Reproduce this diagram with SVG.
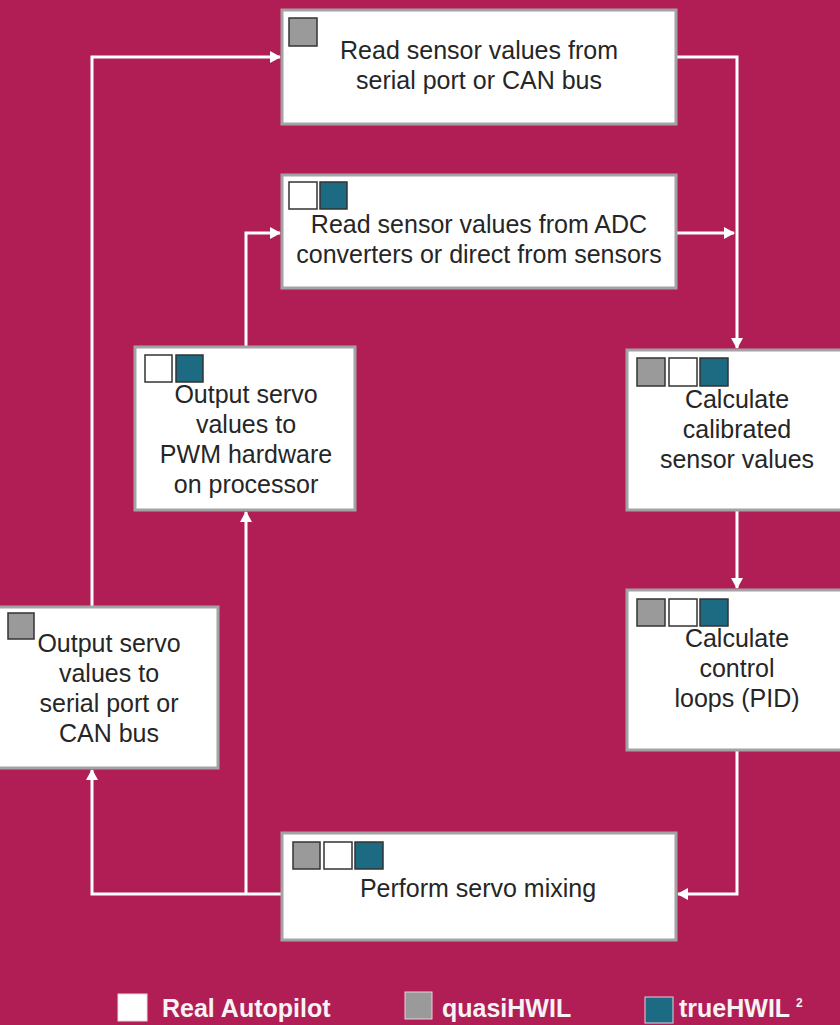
<svg xmlns="http://www.w3.org/2000/svg" width="840" height="1025" viewBox="0 0 840 1025">
<style>
.bg{fill:#B11E56}
.box{fill:#ffffff;stroke:#a3a3a3;stroke-width:3}
.t{font-family:"Liberation Sans",Arial,sans-serif;font-size:25px;fill:#262626;text-anchor:middle}
.sq{stroke:#333333;stroke-width:1.5}
.g{fill:#9a9a9a}
.w{fill:#ffffff}
.b{fill:#1d6a83}
.conn{fill:none;stroke:#ffffff;stroke-width:3}
.leg{font-family:"Liberation Sans",Arial,sans-serif;font-size:25px;font-weight:bold;fill:#f7f2f4}
</style>
<defs>
<marker id="ah" markerWidth="12" markerHeight="12" refX="10" refY="6" orient="auto" markerUnits="userSpaceOnUse">
<path d="M0,0 L11,6 L0,12 Z" fill="#ffffff"/>
</marker>
</defs>
<rect class="bg" x="0" y="0" width="840" height="1025"/>

<g id="connectors">
<polyline class="conn" points="676,57 737,57 737,348" marker-end="url(#ah)"/>
<polyline class="conn" points="676,233 734,233" marker-end="url(#ah)"/>
<polyline class="conn" points="737,510 737,588" marker-end="url(#ah)"/>
<polyline class="conn" points="737,750 737,894 678,894" marker-end="url(#ah)"/>
<polyline class="conn" points="282,894 92,894 92,770" marker-end="url(#ah)"/>
<polyline class="conn" points="246,894 246,512" marker-end="url(#ah)"/>
<polyline class="conn" points="92,607 92,57 280,57" marker-end="url(#ah)"/>
<polyline class="conn" points="246,347 246,233 280,233" marker-end="url(#ah)"/>
</g>

<g id="read-serial">
<rect class="box" x="282" y="10" width="394" height="114"/>
<rect class="sq g" x="289" y="18" width="28" height="28"/>
<text class="t" x="479" y="59">Read sensor values from</text>
<text class="t" x="479" y="89">serial port or CAN bus</text>
</g>

<g id="read-adc">
<rect class="box" x="282" y="175" width="394" height="113"/>
<rect class="sq w" x="289" y="182" width="28" height="27"/>
<rect class="sq b" x="320" y="182" width="27" height="27"/>
<text class="t" x="479" y="233">Read sensor values from ADC</text>
<text class="t" x="479" y="263">converters or direct from sensors</text>
</g>

<g id="output-pwm">
<rect class="box" x="135" y="347" width="220" height="163"/>
<rect class="sq w" x="145" y="355" width="27" height="27"/>
<rect class="sq b" x="176" y="355" width="27" height="27"/>
<text class="t" x="246" y="403">Output servo</text>
<text class="t" x="246" y="433">values to</text>
<text class="t" x="246" y="463">PWM hardware</text>
<text class="t" x="246" y="493">on processor</text>
</g>

<g id="calibrate">
<rect class="box" x="627" y="350" width="220" height="160"/>
<rect class="sq g" x="637" y="358" width="28" height="28"/>
<rect class="sq w" x="669" y="358" width="28" height="28"/>
<rect class="sq b" x="700" y="358" width="28" height="28"/>
<text class="t" x="737" y="408">Calculate</text>
<text class="t" x="737" y="438">calibrated</text>
<text class="t" x="737" y="468">sensor values</text>
</g>

<g id="control-loops">
<rect class="box" x="627" y="590" width="220" height="160"/>
<rect class="sq g" x="637" y="599" width="28" height="27"/>
<rect class="sq w" x="669" y="599" width="28" height="27"/>
<rect class="sq b" x="700" y="599" width="28" height="27"/>
<text class="t" x="737" y="647">Calculate</text>
<text class="t" x="737" y="677">control</text>
<text class="t" x="737" y="707">loops (PID)</text>
</g>

<g id="output-serial">
<rect class="box" x="-4" y="607" width="222" height="161"/>
<rect class="sq g" x="8" y="613" width="26" height="26"/>
<text class="t" x="109" y="652">Output servo</text>
<text class="t" x="109" y="682">values to</text>
<text class="t" x="109" y="712">serial port or</text>
<text class="t" x="109" y="742">CAN bus</text>
</g>

<g id="servo-mixing">
<rect class="box" x="282" y="833" width="394" height="107"/>
<rect class="sq g" x="293" y="842" width="27" height="27"/>
<rect class="sq w" x="324" y="842" width="28" height="27"/>
<rect class="sq b" x="355" y="842" width="28" height="27"/>
<text class="t" x="478" y="897">Perform servo mixing</text>
</g>

<g id="legend">
<rect x="118" y="994" width="29" height="27" fill="#ffffff" stroke="#f0d8e0" stroke-width="1"/>
<text class="leg" x="162" y="1017">Real Autopilot</text>
<rect x="405" y="992" width="27" height="27" fill="#9a9a9a" stroke="#e8d0d8" stroke-width="1"/>
<text class="leg" x="442" y="1017">quasiHWIL</text>
<rect x="645" y="997" width="28" height="26" fill="#1d6a83" stroke="#e8d0d8" stroke-width="1"/>
<text class="leg" x="679" y="1017">trueHWIL</text>
<text class="leg" x="796" y="1007" style="font-size:12px">2</text>
</g>
</svg>
